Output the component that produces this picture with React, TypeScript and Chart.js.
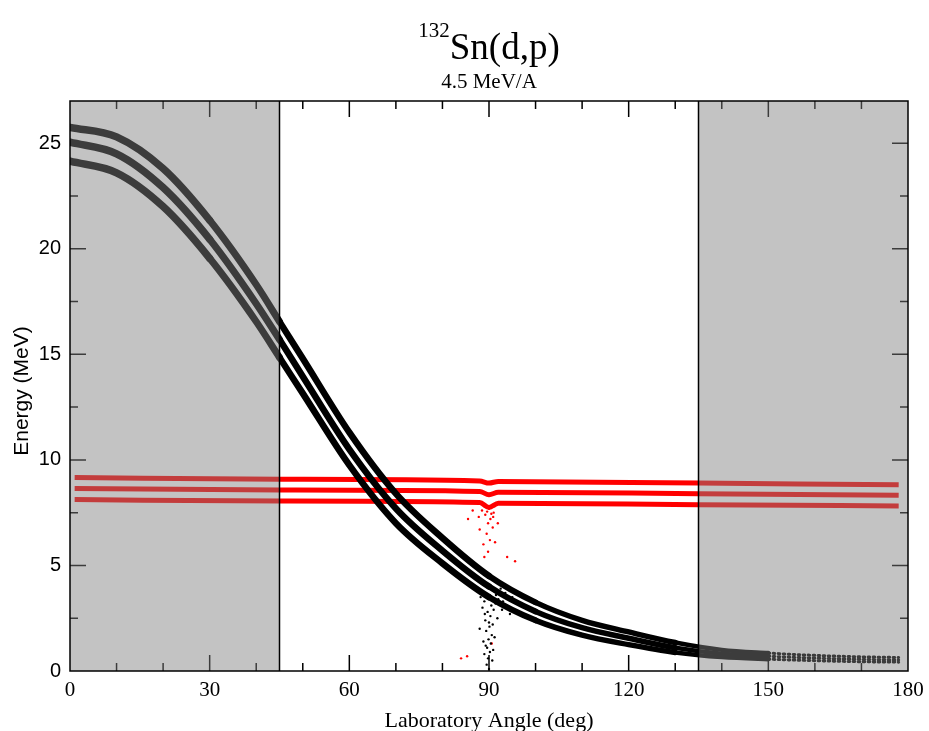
import React, { useEffect, useRef } from "react";
import { Chart, registerables } from "chart.js";

Chart.register(...registerables);

// ---- data ----
const kinAngles = [0, 10, 20, 30, 40, 45, 50, 60, 70, 80, 90, 100, 110, 120, 130, 140, 150, 160, 170, 178];
const protonGs = [25.75, 25.3, 23.8, 21.35, 18.3, 16.55, 14.8, 11.3, 8.4, 6.3, 4.5, 3.25, 2.4, 1.85, 1.35, 1.0, 0.85, 0.74, 0.67, 0.64];
const protonEx1 = [25.05, 24.5, 22.9, 20.45, 17.4, 15.7, 13.95, 10.5, 7.7, 5.7, 4.0, 2.82, 2.05, 1.55, 1.1, 0.82, 0.7, 0.61, 0.55, 0.52];
const protonEx2 = [24.15, 23.6, 22.0, 19.55, 16.55, 14.85, 13.15, 9.75, 7.0, 5.1, 3.5, 2.4, 1.7, 1.25, 0.88, 0.66, 0.56, 0.49, 0.44, 0.42];

const redAngles = [1, 45, 88, 90, 92, 135, 178];
const redTop = [9.17, 9.08, 9.0, 8.9, 8.98, 8.9, 8.82];
const redMid = [8.65, 8.57, 8.5, 8.35, 8.47, 8.4, 8.33];
const redBot = [8.12, 8.05, 7.98, 7.75, 7.95, 7.88, 7.82];

const blackSpread: [number, number][] = [
  [89.5, 0.3], [89.8, 0.6], [90.2, 0.9], [89.6, 1.1], [90.4, 1.3], [89.9, 1.5], [90.6, 1.7],
  [89.4, 1.9], [90.1, 2.1], [90.8, 2.2], [89.2, 2.4], [90.3, 2.6], [89.7, 2.8], [91.0, 2.9],
  [88.6, 3.0], [90.5, 3.1], [89.0, 3.3], [91.4, 3.2], [88.2, 3.5], [92.0, 3.4], [90.0, 0.1],
  [88.0, 2.0], [91.8, 2.5], [87.5, 3.8], [92.5, 3.9], [89.3, 1.2], [90.7, 0.5], [89.1, 2.7],
  [90.9, 1.0], [89.0, 0.8], [91.2, 1.6], [88.8, 1.4], [90.0, 2.3], [91.5, 3.6], [93.0, 3.3],
  [94.0, 3.0], [93.5, 3.7], [92.8, 2.9], [95.0, 3.5], [94.5, 2.7],
];
const redSpread: [number, number][] = [
  [88.5, 7.6], [89.2, 7.4], [90.3, 7.2], [91.0, 7.5], [89.8, 7.0], [90.8, 6.8], [88.0, 6.7],
  [89.5, 6.5], [91.3, 6.1], [85.5, 7.2], [86.5, 7.6], [88.8, 6.0], [89.8, 5.65], [93.9, 5.4],
  [95.6, 5.2], [89.0, 5.4], [91.9, 7.0], [87.8, 7.3], [90.2, 6.2], [85.3, 0.7], [90.6, 1.3],
  [84.0, 0.6], [90.0, 7.7], [89.0, 7.8], [91.2, 7.8], [90.5, 7.45], [89.6, 7.55], [90.9, 7.3],
];

const xTickStep = 10;
const yTickStep = 2.5;
const shadedRanges: [number, number][] = [[0, 45], [135, 180]];

const SERIF = "'Liberation Serif', 'Times New Roman', serif";
const SANS = "'Liberation Sans', Arial, sans-serif";

function pts(xs: number[], ys: number[]) {
  return xs.map((x, i) => ({ x, y: ys[i] }));
}

function kinWidth(a: number) {
  if (a < 30) return 7.5;
  if (a < 45) return 7;
  if (a < 88) return 6.5;
  if (a < 100) return 6;
  if (a < 125) return 5.5;
  if (a < 150) return 4.5;
  return 3;
}

const decorPlugin = {
  id: "decor",
  afterDatasetsDraw(chart: any) {
    const { ctx, chartArea: a, scales } = chart;
    const x = scales.x;
    const y = scales.y;
    ctx.save();
    ctx.strokeStyle = "#000";
    ctx.lineWidth = 1.5;
    ctx.beginPath();
    x.ticks.forEach((t: any) => {
      const v = t.value;
      if (v <= 0 || v >= 180) return;
      const px = x.getPixelForValue(v);
      const len = v % 30 === 0 ? 16 : 8;
      ctx.moveTo(px, a.bottom);
      ctx.lineTo(px, a.bottom - len);
      ctx.moveTo(px, a.top);
      ctx.lineTo(px, a.top + len);
    });
    y.ticks.forEach((t: any) => {
      const v = t.value;
      if (v <= 0 || v >= 27 || Math.abs(v / 2.5 - Math.round(v / 2.5)) > 1e-6) return;
      const py = y.getPixelForValue(v);
      const len = v % 5 === 0 ? 16 : 8;
      ctx.moveTo(a.left, py);
      ctx.lineTo(a.left + len, py);
      ctx.moveTo(a.right, py);
      ctx.lineTo(a.right - len, py);
    });
    ctx.stroke();

    ctx.fillStyle = "rgba(128,128,128,0.47)";
    shadedRanges.forEach(([s, e]) => {
      const x0 = x.getPixelForValue(s);
      const x1 = x.getPixelForValue(e);
      ctx.fillRect(x0, a.top, x1 - x0, a.bottom - a.top);
    });

    ctx.strokeStyle = "#000";
    ctx.lineWidth = 1.5;
    ctx.beginPath();
    [shadedRanges[0][1], shadedRanges[1][0]].forEach((v) => {
      const px = x.getPixelForValue(v);
      ctx.moveTo(px, a.top);
      ctx.lineTo(px, a.bottom);
    });
    ctx.stroke();
    ctx.strokeRect(a.left, a.top, a.right - a.left, a.bottom - a.top);
    ctx.restore();
  },
  afterDraw(chart: any) {
    const { ctx, chartArea: a } = chart;
    const cx = (a.left + a.right) / 2;
    ctx.save();
    ctx.fillStyle = "#000";
    ctx.font = `37px ${SERIF}`;
    const main = "Sn(d,p)";
    const wMain = ctx.measureText(main).width;
    ctx.font = `21px ${SERIF}`;
    const sup = "132";
    const wSup = ctx.measureText(sup).width;
    const start = cx - (wMain + wSup) / 2;
    ctx.textBaseline = "alphabetic";
    ctx.textAlign = "left";
    ctx.fillText(sup, start, 37);
    ctx.font = `37px ${SERIF}`;
    ctx.fillText(main, start + wSup, 59);
    ctx.font = `21px ${SERIF}`;
    ctx.textAlign = "center";
    ctx.fillText("4.5 MeV/A", cx, 88);
    ctx.font = `22px ${SERIF}`;
    ctx.fillText("Laboratory Angle (deg)", cx, 727);
    ctx.translate(22, (a.top + a.bottom) / 2 + 5);
    ctx.rotate(-Math.PI / 2);
    ctx.font = `21px ${SANS}`;
    ctx.textBaseline = "middle";
    ctx.fillText("Energy (MeV)", 0, 0);
    ctx.restore();
  },
};

export default function App() {
  const ref = useRef<HTMLCanvasElement>(null);
  useEffect(() => {
    if (!ref.current) return;
    const kinLine = (ys: number[]) => ({
      type: "line" as const,
      data: pts(kinAngles, ys),
      showLine: true,
      borderColor: "#000",
      borderWidth: 6,
      borderCapStyle: "round" as const,
      borderJoinStyle: "round" as const,
      pointRadius: 0,
      cubicInterpolationMode: "monotone" as const,
      clip: 0,
      segment: {
        borderWidth: (c: any) => kinWidth(c.p0.parsed.x),
        borderDash: (c: any) => (c.p0.parsed.x >= 150 ? [1.5, 3.5] : undefined),
      },
    });
    const redLine = (ys: number[]) => ({
      type: "line" as const,
      data: pts(redAngles, ys),
      showLine: true,
      borderColor: "#f00",
      borderWidth: 5,
      borderCapStyle: "butt" as const,
      pointRadius: 0,
      cubicInterpolationMode: "monotone" as const,
      clip: 0,
    });
    const chart = new Chart(ref.current, {
      type: "scatter",
      data: {
        datasets: [
          kinLine(protonGs),
          kinLine(protonEx1),
          kinLine(protonEx2),
          {
            type: "scatter",
            data: blackSpread.map(([x, y]) => ({ x, y })),
            pointRadius: 1.2,
            pointBorderWidth: 0,
            pointBackgroundColor: "#000",
            clip: 0,
          } as any,
          redLine(redTop),
          redLine(redMid),
          redLine(redBot),
          {
            type: "scatter",
            data: redSpread.map(([x, y]) => ({ x, y })),
            pointRadius: 1.2,
            pointBorderWidth: 0,
            pointBackgroundColor: "#f00",
            clip: 0,
          } as any,
        ] as any,
      },
      options: {
        animation: false,
        responsive: false,
        devicePixelRatio: 1,
        layout: { padding: { top: 101, right: 21, left: 0, bottom: 0 } },
        plugins: { legend: { display: false }, tooltip: { enabled: false }, title: { display: false } },
        scales: {
          x: {
            type: "linear",
            min: 0,
            max: 180,
            grid: { display: false, drawTicks: false },
            border: { display: false },
            ticks: {
              stepSize: xTickStep,
              autoSkip: false,
              maxRotation: 0,
              padding: 7,
              color: "#000",
              font: { family: SERIF, size: 21 },
              callback: (v: any) => (Number(v) % 30 === 0 ? String(v) : ""),
            },
            afterFit: (s: any) => {
              s.height = 60;
              s.paddingLeft = 0;
              s.paddingRight = 0;
            },
          },
          y: {
            type: "linear",
            min: 0,
            max: 27,
            grid: { display: false, drawTicks: false },
            border: { display: false },
            ticks: {
              stepSize: yTickStep,
              includeBounds: false,
              autoSkip: false,
              padding: 9,
              color: "#000",
              font: { family: SANS, size: 20 },
              callback: (v: any) => (Number(v) % 5 === 0 ? String(v) : ""),
            },
            afterFit: (s: any) => {
              s.width = 70;
              s.paddingTop = 0;
              s.paddingBottom = 0;
            },
          },
        },
      } as any,
      plugins: [decorPlugin],
    });
    return () => chart.destroy();
  }, []);
  return (
    <div style={{ position: "fixed", left: 0, top: 0, width: 929, height: 731, background: "#fff" }}>
      <canvas ref={ref} width={929} height={731} style={{ width: 929, height: 731, display: "block" }} />
    </div>
  );
}
